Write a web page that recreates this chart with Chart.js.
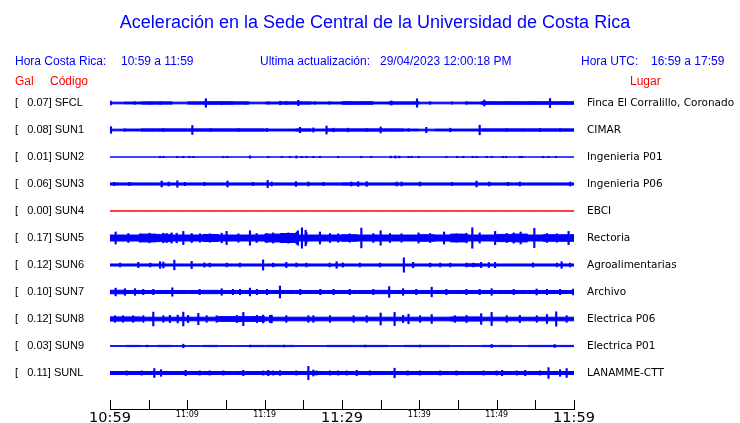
<!DOCTYPE html>
<html>
<head>
<meta charset="utf-8">
<script src="https://cdn.jsdelivr.net/npm/chart.js@4/dist/chart.umd.min.js"></script>
<style>
  body { margin: 0; background: #fff; }
  canvas { display: block; }
</style>
</head>
<body>
<canvas id="sismoCanvas" width="740" height="423"></canvas>
<script>
// Stations, top to bottom
const codes = ['SFCL', 'SUN1', 'SUN2', 'SUN3', 'SUN4', 'SUN5', 'SUN6', 'SUN7', 'SUN8', 'SUN9', 'SUNL'];
const peakGal = [0.07, 0.08, 0.01, 0.06, 0.00, 0.17, 0.12, 0.10, 0.12, 0.03, 0.11];
const places = ['Finca El Corralillo, Coronado', 'CIMAR', 'Ingenieria P01', 'Ingenieria P06', 'EBCI',
  'Rectoria', 'Agroalimentarias', 'Archivo', 'Electrica P06', 'Electrica P01', 'LANAMME-CTT'];

// x axis: minutes after 10:59, one tick every 5 min
const tickLabels = ['10:59', '', '11:09', '', '11:19', '', '11:29', '', '11:39', '', '11:49', '', '11:59'];

// background noise half-amplitude (gal), one value per 2-minute bin
const bandSFCL = [0.014, 0.014, 0.016, 0.019, 0.019, 0.014, 0.019, 0.022, 0.022, 0.019, 0.014, 0.016, 0.019, 0.019, 0.016,
  0.016, 0.022, 0.022, 0.016, 0.019, 0.019, 0.014, 0.014, 0.014, 0.016, 0.022, 0.022, 0.022, 0.022, 0.022];
const bandSUN1 = [0.016, 0.014, 0.016, 0.019, 0.019, 0.019, 0.019, 0.019, 0.019, 0.019, 0.019, 0.016, 0.016, 0.019, 0.016,
  0.019, 0.019, 0.019, 0.019, 0.019, 0.016, 0.014, 0.016, 0.016, 0.016, 0.019, 0.019, 0.019, 0.019, 0.019];
const bandSUN2 = [0, 0, 0, 0, 0, 0, 0, 0, 0, 0, 0, 0, 0, 0, 0, 0, 0, 0, 0, 0, 0, 0, 0, 0, 0, 0, 0, 0, 0, 0];
const bandSUN3 = [0.018, 0.018, 0.018, 0.018, 0.018, 0.018, 0.018, 0.018, 0.018, 0.018, 0.018, 0.018, 0.018, 0.018, 0.018,
  0.018, 0.019, 0.018, 0.018, 0.018, 0.018, 0.018, 0.018, 0.018, 0.018, 0.018, 0.018, 0.018, 0.018, 0.018];
const bandSUN4 = [0, 0, 0, 0, 0, 0, 0, 0, 0, 0, 0, 0, 0, 0, 0, 0, 0, 0, 0, 0, 0, 0, 0, 0, 0, 0, 0, 0, 0, 0];
const bandSUN5 = [0.050, 0.050, 0.050, 0.065, 0.060, 0.050, 0.050, 0.058, 0.050, 0.050, 0.050, 0.065, 0.075, 0.050, 0.050,
  0.050, 0.055, 0.050, 0.050, 0.050, 0.050, 0.055, 0.050, 0.065, 0.050, 0.050, 0.060, 0.065, 0.050, 0.055];
const bandSUN6 = [0.017, 0.017, 0.017, 0.017, 0.017, 0.017, 0.017, 0.017, 0.017, 0.017, 0.017, 0.017, 0.017, 0.017, 0.017,
  0.017, 0.017, 0.017, 0.017, 0.017, 0.017, 0.017, 0.017, 0.017, 0.020, 0.017, 0.017, 0.017, 0.017, 0.017];
const bandSUN7 = [0.035, 0.030, 0.025, 0.025, 0.025, 0.025, 0.025, 0.028, 0.025, 0.025, 0.025, 0.025, 0.025, 0.025, 0.025,
  0.025, 0.025, 0.025, 0.028, 0.025, 0.025, 0.025, 0.025, 0.025, 0.025, 0.025, 0.025, 0.025, 0.025, 0.025];
const bandSUN8 = [0.035, 0.035, 0.035, 0.030, 0.030, 0.030, 0.030, 0.030, 0.040, 0.040, 0.040, 0.030, 0.030, 0.030, 0.030,
  0.030, 0.030, 0.030, 0.030, 0.030, 0.030, 0.030, 0.030, 0.035, 0.035, 0.030, 0.030, 0.030, 0.030, 0.030];
const bandSUN9 = [0.006, 0.006, 0.010, 0.006, 0.010, 0.006, 0.006, 0.010, 0.006, 0.006, 0.010, 0.010, 0.010, 0.006, 0.006,
  0.010, 0.010, 0.010, 0.010, 0.006, 0.010, 0.010, 0.010, 0.006, 0.006, 0.010, 0.010, 0.006, 0.010, 0.010];
const bandSUNL = [0.025, 0.025, 0.025, 0.025, 0.025, 0.025, 0.025, 0.025, 0.025, 0.025, 0.025, 0.025, 0.025, 0.025, 0.025,
  0.025, 0.025, 0.025, 0.025, 0.025, 0.025, 0.025, 0.025, 0.025, 0.025, 0.025, 0.025, 0.025, 0.025, 0.025];

// transient peaks [minute, half-amplitude in gal]
const spikesSFCL = [[0.1, 0.03], [2.0, 0.015], [3.2, 0.022], [5.1, 0.02], [6.5, 0.022], [8.0, 0.015], [12.4, 0.07],
  [14.4, 0.022], [17.5, 0.02], [20.5, 0.02], [22.0, 0.03], [22.8, 0.025], [24.35, 0.045], [26.5, 0.02], [28.4, 0.022],
  [31.2, 0.02], [33.8, 0.02], [36.4, 0.035], [39.7, 0.07], [41.4, 0.022], [44.2, 0.02], [46.1, 0.022], [48.4, 0.05],
  [52.0, 0.02], [54.7, 0.022], [56.9, 0.075], [59.0, 0.022]];
const spikesSUN1 = [[0.13, 0.055], [1.9, 0.022], [6.9, 0.022], [10.65, 0.075], [13.0, 0.022], [16.6, 0.022],
  [20.3, 0.025], [24.57, 0.045], [26.3, 0.035], [28.0, 0.067], [28.9, 0.03], [30.8, 0.03], [33.2, 0.022],
  [35.0, 0.05], [38.6, 0.022], [40.9, 0.045], [44.0, 0.03], [47.8, 0.08], [51.3, 0.022], [55.6, 0.025], [58.2, 0.022]];
const spikesSUN2 = [[6.47, 0.012], [6.9, 0.012], [8.71, 0.012], [9.48, 0.012], [10.24, 0.012], [10.8, 0.012],
  [14.65, 0.012], [15.17, 0.012], [18.1, 0.02], [20.47, 0.012], [22.2, 0.012], [23.27, 0.012], [24.1, 0.018],
  [24.8, 0.012], [25.4, 0.012], [26.3, 0.012], [27.15, 0.012], [29.5, 0.012], [32.5, 0.012], [33.8, 0.012],
  [36.3, 0.015], [36.9, 0.018], [37.4, 0.015], [38.6, 0.012], [39.0, 0.012], [39.9, 0.012], [43.5, 0.012],
  [44.9, 0.012], [45.7, 0.012], [46.9, 0.012], [47.4, 0.012], [48.7, 0.012], [49.35, 0.012], [50.8, 0.012],
  [51.2, 0.012], [53.0, 0.012], [53.3, 0.012], [56.0, 0.012], [56.7, 0.012], [57.7, 0.012]];
const spikesSUN3 = [[0.56, 0.028], [2.5, 0.028], [6.68, 0.05], [7.6, 0.033], [8.71, 0.055], [9.7, 0.028],
  [12.2, 0.028], [15.2, 0.05], [18.5, 0.028], [20.39, 0.06], [20.9, 0.033], [24.05, 0.04], [25.65, 0.033],
  [27.6, 0.028], [31.2, 0.033], [32.1, 0.04], [33.2, 0.04], [37.07, 0.033], [37.7, 0.033], [40.1, 0.033],
  [44.2, 0.028], [47.4, 0.05], [49.05, 0.033], [51.5, 0.028], [53.0, 0.033], [59.5, 0.033]];
const spikesSUN4 = [];
const spikesSUN5 = [[0.73, 0.1], [2.37, 0.075], [3.88, 0.07], [5.09, 0.08], [6.9, 0.08], [7.33, 0.075], [7.97, 0.085],
  [8.62, 0.08], [9.48, 0.11], [10.56, 0.075], [11.64, 0.07], [12.93, 0.07], [14.44, 0.08], [15.08, 0.11],
  [16.6, 0.07], [18.1, 0.12], [18.96, 0.075], [20.26, 0.075], [21.1, 0.085], [22.2, 0.075], [23.06, 0.085],
  [24.14, 0.1], [24.3, 0.12], [24.82, 0.17], [25.3, 0.13], [25.4, 0.09], [27.15, 0.1], [28.45, 0.075],
  [29.5, 0.07], [31.0, 0.07], [32.5, 0.165], [34.05, 0.075], [35.0, 0.12], [36.2, 0.075], [37.7, 0.07],
  [39.9, 0.085], [41.4, 0.075], [43.2, 0.1], [44.8, 0.07], [46.1, 0.08], [46.85, 0.17], [47.8, 0.085],
  [49.8, 0.11], [51.3, 0.075], [52.2, 0.085], [53.1, 0.1], [54.87, 0.16], [56.5, 0.075], [57.8, 0.07], [59.3, 0.11]];
const spikesSUN6 = [[1.3, 0.032], [3.66, 0.045], [5.2, 0.032], [6.47, 0.055], [6.9, 0.05], [8.32, 0.08],
  [10.56, 0.06], [12.2, 0.035], [12.9, 0.032], [15.1, 0.032], [16.8, 0.032], [19.8, 0.085], [21.1, 0.032],
  [22.8, 0.045], [24.1, 0.032], [25.4, 0.032], [28.4, 0.032], [29.3, 0.055], [30.1, 0.035], [32.3, 0.032],
  [34.9, 0.032], [38.0, 0.12], [39.2, 0.045], [41.4, 0.032], [42.7, 0.032], [44.0, 0.032], [46.1, 0.032],
  [47.0, 0.032], [48.0, 0.045], [49.0, 0.04], [49.8, 0.045], [54.7, 0.035], [57.8, 0.032], [58.4, 0.055], [59.5, 0.032]];
const spikesSUN7 = [[0.73, 0.065], [1.94, 0.055], [3.23, 0.055], [4.3, 0.045], [5.6, 0.045], [8.06, 0.07],
  [11.6, 0.045], [14.44, 0.055], [15.9, 0.045], [16.8, 0.045], [18.1, 0.065], [19.0, 0.045], [20.3, 0.045],
  [21.98, 0.1], [24.6, 0.045], [27.2, 0.045], [28.9, 0.045], [31.0, 0.045], [34.05, 0.045], [36.1, 0.09],
  [37.9, 0.055], [39.6, 0.045], [41.6, 0.08], [43.5, 0.045], [46.1, 0.045], [47.8, 0.045], [49.35, 0.055],
  [52.2, 0.045], [55.17, 0.05], [56.5, 0.045], [58.2, 0.045], [59.9, 0.05]];
const spikesSUN8 = [[0.65, 0.055], [1.7, 0.055], [3.0, 0.055], [4.3, 0.055], [5.6, 0.115], [6.9, 0.055],
  [7.75, 0.06], [8.75, 0.065], [9.48, 0.115], [10.1, 0.06], [11.42, 0.095], [12.5, 0.055], [13.8, 0.055],
  [16.4, 0.06], [17.24, 0.11], [19.0, 0.06], [19.8, 0.065], [20.7, 0.06], [20.9, 0.065], [22.8, 0.055],
  [25.65, 0.055], [26.3, 0.055], [28.45, 0.055], [31.5, 0.055], [33.2, 0.055], [35.0, 0.1], [36.8, 0.11],
  [37.9, 0.06], [38.6, 0.08], [40.1, 0.055], [41.6, 0.075], [44.6, 0.055], [46.1, 0.06], [48.0, 0.09],
  [49.35, 0.11], [51.3, 0.055], [53.0, 0.06], [55.2, 0.055], [56.5, 0.075], [57.7, 0.12], [59.05, 0.055]];
const spikesSUN9 = [[4.8, 0.015], [9.48, 0.03], [18.1, 0.015], [22.5, 0.015], [33.0, 0.015], [40.1, 0.015],
  [49.35, 0.025], [57.5, 0.025]];
const spikesSUNL = [[2.15, 0.035], [4.1, 0.035], [5.73, 0.075], [6.6, 0.055], [9.78, 0.045], [11.6, 0.035],
  [12.9, 0.035], [14.65, 0.035], [17.24, 0.045], [19.8, 0.035], [20.47, 0.045], [21.1, 0.035], [21.98, 0.04],
  [24.1, 0.035], [25.65, 0.11], [26.3, 0.05], [26.7, 0.035], [28.45, 0.035], [29.5, 0.035], [30.6, 0.035],
  [31.9, 0.045], [33.6, 0.035], [36.8, 0.08], [38.5, 0.035], [40.1, 0.035], [42.7, 0.035], [44.8, 0.035],
  [48.3, 0.035], [50.0, 0.035], [50.7, 0.045], [52.6, 0.035], [53.7, 0.045], [55.6, 0.035], [56.7, 0.09],
  [58.2, 0.055], [59.05, 0.075]];

const bands = [bandSFCL, bandSUN1, bandSUN2, bandSUN3, bandSUN4, bandSUN5, bandSUN6, bandSUN7, bandSUN8, bandSUN9, bandSUNL];
const spikes = [spikesSFCL, spikesSUN1, spikesSUN2, spikesSUN3, spikesSUN4, spikesSUN5, spikesSUN6, spikesSUN7,
  spikesSUN8, spikesSUN9, spikesSUNL];

const ROW_GAP = 0.45;   // gal between two traces
const BIN_MIN = 2;      // minutes per band value
const SPAN_MIN = 60;

// 1. Build the datasets: a filled noise band plus peak sticks for every station
const datasets = [];
codes.forEach((code, k) => {
  const c = -k * ROW_GAP;
  const color = peakGal[k] === 0 ? '#ff0000' : '#0000ff'; // dead channel drawn in red
  const band = bands[k];
  const edge = sign => band.map((a, i) => ({ x: i * BIN_MIN, y: c + sign * a }))
    .concat([{ x: SPAN_MIN, y: c + sign * band[band.length - 1] }]);

  datasets.push({ type: 'line', data: edge(1), borderColor: color, borderWidth: 1,
    pointRadius: 0, stepped: 'after', fill: false });
  datasets.push({ type: 'line', data: edge(-1), borderColor: color, borderWidth: 1,
    pointRadius: 0, stepped: 'after', fill: '-1', backgroundColor: color });
  datasets.push({ type: 'bar', data: spikes[k].map(([m, a]) => ({ x: m, y: [c - a, c + a] })),
    backgroundColor: color, barThickness: 1.5, grouped: false });
});

// 2. Header texts and upward tick marks
const headerPlugin = {
  id: 'header',
  afterDraw(chart) {
    const ctx = chart.ctx;
    ctx.save();
    ctx.textBaseline = 'alphabetic';
    ctx.textAlign = 'center';
    ctx.fillStyle = '#0000ff';
    ctx.font = '18px "Liberation Sans"';
    ctx.fillText('Aceleración en la Sede Central de la Universidad de Costa Rica', 375, 28);

    ctx.textAlign = 'left';
    ctx.font = '12px "Liberation Sans"';
    ctx.fillText('Hora Costa Rica:', 15, 65);
    ctx.fillText('10:59 a 11:59', 121, 65);
    ctx.fillText('Ultima actualización:', 260, 65);
    ctx.fillText('29/04/2023 12:00:18 PM', 380, 65);
    ctx.fillText('Hora UTC:', 581, 65);
    ctx.fillText('16:59 a 17:59', 651, 65);

    ctx.fillStyle = '#ff0000';
    ctx.fillText('Gal', 15, 85);
    ctx.fillText('Código', 50, 85);
    ctx.fillText('Lugar', 630, 85);

    // tick marks point up from the time axis
    const xs = chart.scales.x;
    const yb = chart.chartArea.bottom;
    ctx.strokeStyle = '#000';
    ctx.lineWidth = 1;
    ctx.beginPath();
    xs.ticks.forEach(t => {
      const px = Math.round(xs.getPixelForValue(t.value)) + 0.5;
      ctx.moveTo(px, yb);
      ctx.lineTo(px, yb - 9);
    });
    ctx.stroke();
    ctx.restore();
  }
};

const yMin = -(codes.length - 1) * ROW_GAP - 0.6;
const yMax = ROW_GAP;
const rowTicks = s => { s.ticks = codes.map((_, k) => ({ value: -k * ROW_GAP })); };
// keep Chart.js from reserving room for the end labels
const fitV = w => s => { s.width = w; s.paddingTop = 0; s.paddingBottom = 0; };

new Chart(document.getElementById('sismoCanvas'), {
  type: 'bar',
  data: { datasets },
  options: {
    responsive: false,
    animation: false,
    events: [],
    layout: { padding: { left: 15, top: 76, right: 0, bottom: 0 } },
    plugins: { legend: { display: false }, tooltip: { enabled: false } },
    scales: {
      x: {
        type: 'linear', min: 0, max: SPAN_MIN, offset: false,
        afterBuildTicks: s => { s.ticks = tickLabels.map((_, i) => ({ value: i * 5 })); },
        afterFit: s => { s.height = 14; s.paddingLeft = 0; s.paddingRight = 0; },
        grid: { display: false, drawTicks: false },
        border: { display: true, color: '#000', width: 1 },
        ticks: {
          autoSkip: false, maxRotation: 0, padding: 2, color: '#000',
          callback: (v, i) => tickLabels[i],
          font: ctx => ctx.index % 6 === 0
            ? { family: 'DejaVu Sans', size: 14.5, lineHeight: 1 }
            : { family: 'DejaVu Sans', size: 8, lineHeight: 1 }
        }
      },
      y: {
        type: 'linear', position: 'left', min: yMin, max: yMax,
        afterBuildTicks: rowTicks,
        afterFit: fitV(95),
        grid: { display: false, drawTicks: false },
        border: { display: false },
        ticks: {
          autoSkip: false, crossAlign: 'far', padding: 0, color: '#000',
          font: { family: 'Liberation Sans', size: 11 },
          callback: (v, i) => '[   ' + peakGal[i].toFixed(2) + '] ' + codes[i]
        }
      },
      yr: {
        type: 'linear', position: 'right', display: true, min: yMin, max: yMax,
        afterBuildTicks: rowTicks,
        afterFit: fitV(166),
        grid: { display: false, drawTicks: false },
        border: { display: false },
        ticks: {
          autoSkip: false, crossAlign: 'near', padding: 13, color: '#000',
          font: { family: 'DejaVu Sans', size: 10.5 },
          callback: (v, i) => places[i]
        }
      }
    }
  },
  plugins: [headerPlugin]
});
</script>
</body>
</html>
